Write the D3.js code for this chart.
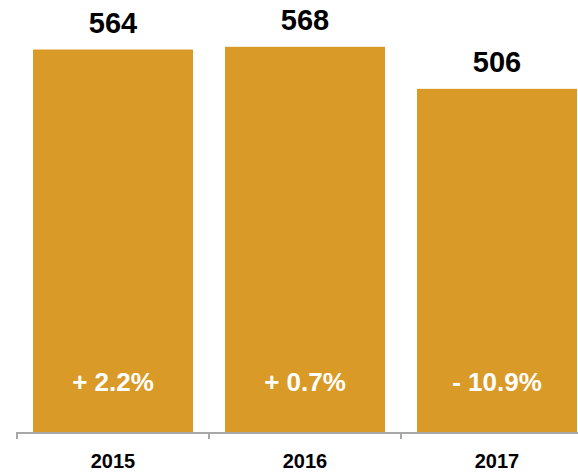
<!DOCTYPE html>
<html>
<head>
<meta charset="utf-8">
<script src="https://cdn.jsdelivr.net/npm/d3@7"></script>
<style>
  html, body { margin: 0; padding: 0; background: #fff; }
  svg { display: block; font-family: "Liberation Sans", Arial, Helvetica, sans-serif; }
</style>
</head>
<body>
<svg id="chart" width="578" height="473"></svg>
<script>
// Yearly totals and year-over-year change
const years = ["2015", "2016", "2017"];
const totals = [564, 568, 506];
const changes = ["+ 2.2%", "+ 0.7%", "- 10.9%"];

const W = 578, H = 473;
const svg = d3.select("#chart");

const x = d3.scaleBand()
  .domain(years)
  .range([17, 593])
  .paddingInner(1 / 6)
  .paddingOuter(1 / 12);

const baseY = 432;
const y = d3.scaleLinear().domain([0, 637]).range([baseY, 0]);

const barColor = "#d99a28";

// Bars
svg.selectAll("rect.bar")
  .data(years)
  .join("rect")
  .attr("class", "bar")
  .attr("x", d => x(d))
  .attr("width", x.bandwidth())
  .attr("y", (d, i) => y(totals[i]))
  .attr("height", (d, i) => y(0) - y(totals[i]))
  .attr("fill", barColor);

// Value labels above bars
svg.selectAll("text.value")
  .data(years)
  .join("text")
  .attr("class", "value")
  .attr("x", d => x(d) + x.bandwidth() / 2)
  .attr("y", (d, i) => y(totals[i]) - 17)
  .attr("text-anchor", "middle")
  .attr("font-size", 29)
  .attr("font-weight", "bold")
  .attr("fill", "#000")
  .text((d, i) => totals[i]);

// Change labels inside bars
svg.selectAll("text.change")
  .data(years)
  .join("text")
  .attr("class", "change")
  .attr("x", d => x(d) + x.bandwidth() / 2)
  .attr("y", 391)
  .attr("text-anchor", "middle")
  .attr("font-size", 26)
  .attr("font-weight", "bold")
  .attr("fill", "#fff")
  .text((d, i) => changes[i]);

// Category axis: baseline with ticks at band boundaries
const axisColor = "#a8a8a8";
const step = x.step();
const gap = step * x.paddingInner();
svg.append("line")
  .attr("x1", x(years[0]) - gap / 2)
  .attr("x2", W)
  .attr("y1", baseY + 1)
  .attr("y2", baseY + 1)
  .attr("stroke", axisColor)
  .attr("stroke-width", 2);

svg.selectAll("line.tick")
  .data(years)
  .join("line")
  .attr("class", "tick")
  .attr("x1", d => x(d) - gap / 2)
  .attr("x2", d => x(d) - gap / 2)
  .attr("y1", baseY)
  .attr("y2", baseY + 7)
  .attr("stroke", axisColor)
  .attr("stroke-width", 2);

svg.selectAll("text.year")
  .data(years)
  .join("text")
  .attr("class", "year")
  .attr("x", d => x(d) + x.bandwidth() / 2)
  .attr("y", 468)
  .attr("text-anchor", "middle")
  .attr("font-size", 20)
  .attr("font-weight", "bold")
  .attr("fill", "#000")
  .text(d => d);
</script>
</body>
</html>
